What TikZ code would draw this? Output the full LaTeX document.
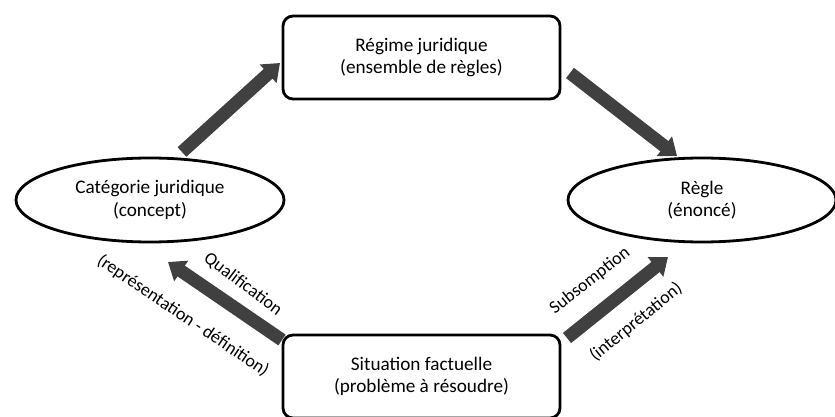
\documentclass[tikz,border=0pt]{standalone}
\usepackage{fontspec}
\setmainfont{Carlito}
\usetikzlibrary{arrows.meta,shapes.geometric,positioning}

\definecolor{arrowgray}{HTML}{404040}

\begin{document}
\begin{tikzpicture}[x=1pt,y=-1pt,
    every node/.style={font=\fontsize{19.2}{22.5}\selectfont, align=center},
    box/.style={draw, line width=2.8pt, rounded corners=10pt, minimum width=277pt, minimum height=83pt},
    oval/.style={draw, ellipse, line width=2.8pt, minimum width=268pt, minimum height=84pt},
    fat/.style={line width=13pt, draw=arrowgray, -{Triangle[width=24pt,length=16pt]}},
    lbl/.style={font=\fontsize{18}{20}\selectfont, inner sep=1pt}]

    \useasboundingbox (0,0) rectangle (835,417);

    % Add the nodes
    \node[box]  (regime) at (421.5,57.5) {Régime juridique\\(ensemble de règles)};
    \node[oval] (cat)    at (150,200)    {Catégorie juridique\\(concept)};
    \node[oval] (regle)  at (702,200)    {Règle\\(énoncé)};
    \node[box]  (fait)   at (421.5,376.5) {Situation factuelle\\(problème à résoudre)};

    % Arrow ends
    \coordinate (c1) at (182,152);
    \coordinate (c2) at (280,63);
    \coordinate (c3) at (570,73);
    \coordinate (c4) at (677,156);
    \coordinate (c5) at (282,340);
    \coordinate (c6) at (168,262);
    \coordinate (c7) at (567,338);
    \coordinate (c8) at (668,257);

    % Connect them with thick arrows
    \draw[fat] (c1) -- (c2);
    \draw[fat] (c3) -- (c4);
    \draw[fat] (c5) -- (c6);
    \draw[fat] (c7) -- (c8);

    % Labels along the lower arrows
    \node[lbl, rotate=-37] (qual) at (243,284) {Qualification};
    \node[lbl, rotate=-34] (repr) at (183,316) {(représentation - définition)};
    \node[lbl, rotate=38]  (subs) at (590,281) {Subsomption};
    \node[lbl, rotate=39]  (interp) at (636,322) {(interprétation)};

\end{tikzpicture}
\end{document}
